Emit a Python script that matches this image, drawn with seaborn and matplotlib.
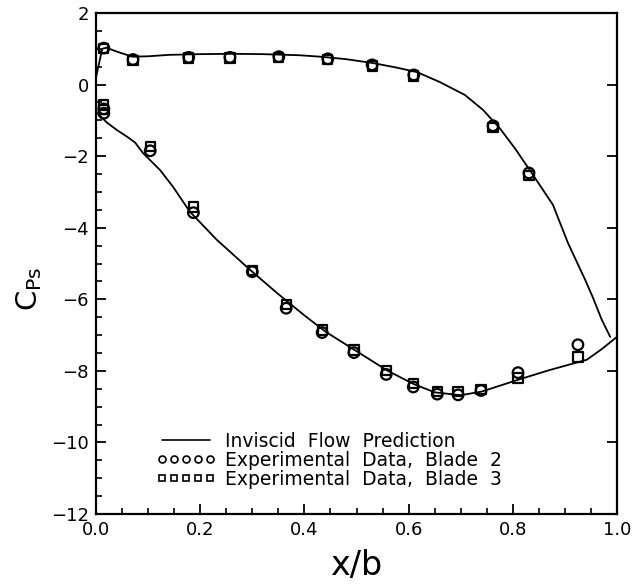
import matplotlib
matplotlib.use("Agg")
import matplotlib.pyplot as plt
from matplotlib.lines import Line2D
from matplotlib.ticker import MultipleLocator
import seaborn as sns
import pandas as pd

# Inviscid prediction: pressure side
pred_ps_x = [0.0, 0.012, 0.02, 0.04, 0.07, 0.10, 0.14, 0.20, 0.26, 0.32, 0.39, 0.43,
             0.48, 0.532, 0.575, 0.616, 0.66, 0.708, 0.743, 0.775, 0.805, 0.833,
             0.877, 0.906, 0.939, 0.954, 0.971, 0.987]
pred_ps_y = [0.2, 1.0, 1.03, 0.92, 0.78, 0.79, 0.83, 0.85, 0.86, 0.85, 0.82, 0.78,
             0.71, 0.60, 0.48, 0.35, 0.07, -0.29, -0.71, -1.22, -1.80, -2.40,
             -3.36, -4.43, -5.46, -5.96, -6.58, -7.05]
# Inviscid prediction: suction side
pred_ss_x = [0.003, 0.02, 0.04, 0.06, 0.075, 0.09, 0.123, 0.148, 0.18, 0.232, 0.296,
             0.347, 0.40, 0.44, 0.50, 0.56, 0.61, 0.65, 0.70, 0.74, 0.81, 0.87,
             0.942, 0.97, 1.0]
pred_ss_y = [-0.8, -1.05, -1.27, -1.46, -1.62, -1.91, -2.39, -2.86, -3.55, -4.34,
             -5.18, -5.82, -6.45, -6.9, -7.45, -8.0, -8.37, -8.6, -8.68, -8.58,
             -8.25, -7.98, -7.69, -7.4, -7.05]

# Experimental data, Blade 2 (circles)
blade2_x = [0.015, 0.071, 0.178, 0.257, 0.351, 0.445, 0.53, 0.61, 0.762, 0.831,
            0.015, 0.015, 0.104, 0.187, 0.30, 0.365, 0.434, 0.495, 0.557, 0.609,
            0.655, 0.695, 0.739, 0.81, 0.925]
blade2_y = [1.02, 0.70, 0.76, 0.76, 0.78, 0.72, 0.55, 0.27, -1.15, -2.47,
            -0.68, -0.8, -1.85, -3.58, -5.23, -6.25, -6.93, -7.49, -8.1, -8.45,
            -8.65, -8.67, -8.55, -8.05, -7.27]
# Experimental data, Blade 3 (squares)
blade3_x = [0.015, 0.071, 0.178, 0.257, 0.351, 0.445, 0.53, 0.61, 0.762, 0.831,
            0.015, 0.015, 0.104, 0.187, 0.30, 0.365, 0.434, 0.495, 0.557, 0.609,
            0.655, 0.695, 0.739, 0.81, 0.925]
blade3_y = [1.0, 0.68, 0.74, 0.74, 0.75, 0.70, 0.52, 0.24, -1.2, -2.55,
            -0.57, -0.7, -1.72, -3.42, -5.2, -6.15, -6.86, -7.42, -7.98, -8.35,
            -8.58, -8.58, -8.52, -8.2, -7.61]

x_ticks = [0.0, 0.2, 0.4, 0.6, 0.8, 1.0]
x_ticklabels = ["0.0", "0.2", "0.4", "0.6", "0.8", "1.0"]
y_ticks = [2, 0, -2, -4, -6, -8, -10, -12]
y_ticklabels = ["2", "0", "\u22122", "\u22124", "\u22126", "\u22128", "\u221210", "\u221212"]

legend_labels = ["Inviscid  Flow  Prediction",
                 "Experimental  Data,  Blade  2",
                 "Experimental  Data,  Blade  3"]

sns.set_theme(style="ticks")
plt.rcParams["font.family"] = ["DejaVu Sans"]

fig = plt.figure(figsize=(6.44, 5.84), dpi=100)
ax = fig.add_axes([96 / 644, 1 - 514 / 584, 521 / 644, 501 / 584])

sns.lineplot(x=pred_ps_x, y=pred_ps_y, sort=False, estimator=None, color="black",
             linewidth=1.3, ax=ax)
sns.lineplot(x=pred_ss_x, y=pred_ss_y, sort=False, estimator=None, color="black",
             linewidth=1.3, ax=ax)
sns.scatterplot(x=blade2_x, y=blade2_y, marker="o", s=58, facecolor="none",
                edgecolor="black", linewidth=1.6, ax=ax, zorder=3)
sns.scatterplot(x=blade3_x, y=blade3_y, marker="s", s=44, facecolor="none",
                edgecolor="black", linewidth=1.6, ax=ax, zorder=3)

ax.set_xlim(0, 1.0)
ax.set_ylim(-12, 2)
ax.set_xticks(x_ticks)
ax.set_xticklabels(x_ticklabels)
ax.set_yticks(y_ticks)
ax.set_yticklabels(y_ticklabels)
ax.xaxis.set_minor_locator(MultipleLocator(0.05))
ax.yaxis.set_minor_locator(MultipleLocator(0.5))
ax.tick_params(which="major", direction="in", length=7, width=1.3,
               labelsize=13, color="black", labelcolor="black", pad=5)
ax.tick_params(which="minor", direction="in", length=4.5, width=1.2, color="black")
ax.tick_params(axis="y", which="both", right=True)
ax.tick_params(axis="y", which="minor", right=False)
for sp in ax.spines.values():
    sp.set_linewidth(1.6)
    sp.set_color("black")

ax.set_xlabel("x/b", fontsize=24, color="black")
ax.xaxis.set_label_coords(0.5, -0.07)
ax.set_ylabel(r"$\mathregular{C_{Ps}}$", fontsize=21, color="black")
ax.yaxis.set_label_coords(-0.10, 0.45)

handles = [
    Line2D([], [], color="black", linewidth=1.2),
    Line2D([], [], color="black", linestyle="none", marker="o", markersize=5,
           markerfacecolor="none", markeredgewidth=1.2),
    Line2D([], [], color="black", linestyle="none", marker="s", markersize=4.5,
           markerfacecolor="none", markeredgewidth=1.2),
]
leg = ax.legend(handles, legend_labels, loc="lower left",
                bbox_to_anchor=(0.115, 0.05), frameon=False, numpoints=5,
                handlelength=3.2, handletextpad=0.5, labelspacing=0.0,
                borderpad=0, borderaxespad=0, fontsize=13.5)
for t in leg.get_texts():
    t.set_color("black")

fig.savefig("out.png", dpi=100, facecolor="white")
